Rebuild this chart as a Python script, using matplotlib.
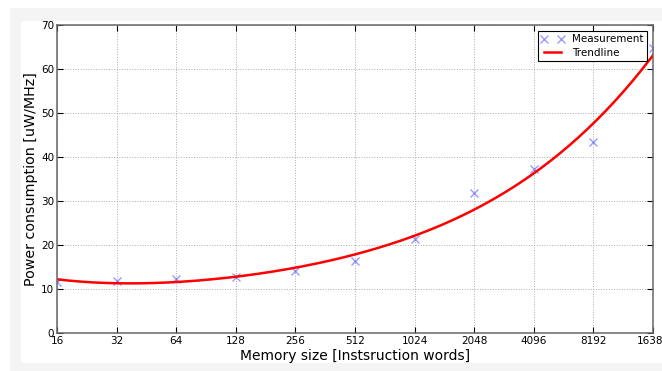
import numpy as np
import matplotlib
matplotlib.use('Agg')
from matplotlib import pyplot as plt
from matplotlib.patches import Rectangle

mem_size = [16, 32, 64, 128, 256, 512, 1024, 2048, 4096, 8192, 16384]
power = [11.7, 11.9, 12.3, 12.8, 14.0, 16.4, 21.4, 31.8, 37.3, 43.4, 64.8]
tick_labels = [str(m) for m in mem_size]

# trendline: polynomial fit in log2 space
t = np.log2(mem_size)
coef = np.polyfit(t, power, 4)
t_fine = np.linspace(t[0], t[-1], 200)
trend = np.polyval(coef, t_fine)

fig = plt.figure(figsize=(6.62, 3.71), dpi=100, facecolor='white')
# grey screenshot border + white inner page
fig.patches.append(Rectangle((10/662, 0), 1, 1 - 8/371, transform=fig.transFigure,
                             facecolor='#f4f4f4', edgecolor='none', zorder=-2))
fig.patches.append(Rectangle((21/662, 8/371), 1, 1 - 29/371, transform=fig.transFigure,
                             facecolor='white', edgecolor='none', zorder=-1))

ax = fig.add_axes([57/662, 1 - 333/371, 596/662, 308/371])
ax.plot(mem_size, power, 'x', color='blue', alpha=0.4, markersize=6, mew=1, label='Measurement')
ax.plot(2 ** t_fine, trend, '-', color='red', lw=1.8, label='Trendline')

ax.set_xscale('log', base=2)
ax.set_xlim(16, 16384)
ax.set_ylim(0, 70)
ax.set_xticks(mem_size)
ax.set_xticklabels(tick_labels)
ax.xaxis.set_minor_locator(matplotlib.ticker.NullLocator())
ax.set_yticks(range(0, 71, 10))
ax.tick_params(direction='in', top=True, right=True, labelsize=7.5, length=4, pad=2, colors='black')
ax.grid(True, linestyle=':', color='#aaaaaa', lw=0.7)
for s in ax.spines.values():
    s.set_color('#666666')
    s.set_linewidth(1.1)

ax.set_xlabel('Memory size [Instsruction words]', fontsize=10, labelpad=2)
ax.set_ylabel('Power consumption [uW/MHz]', fontsize=10.3, labelpad=2)

leg = ax.legend(loc='upper right', numpoints=2, fontsize=7.5, fancybox=False, framealpha=1,
                borderaxespad=0.6, handlelength=2.2, borderpad=0.3, labelspacing=0.3)
leg.get_frame().set_edgecolor('black')
leg.get_frame().set_linewidth(0.8)

fig.savefig('out.png', dpi=100, facecolor=fig.get_facecolor())
